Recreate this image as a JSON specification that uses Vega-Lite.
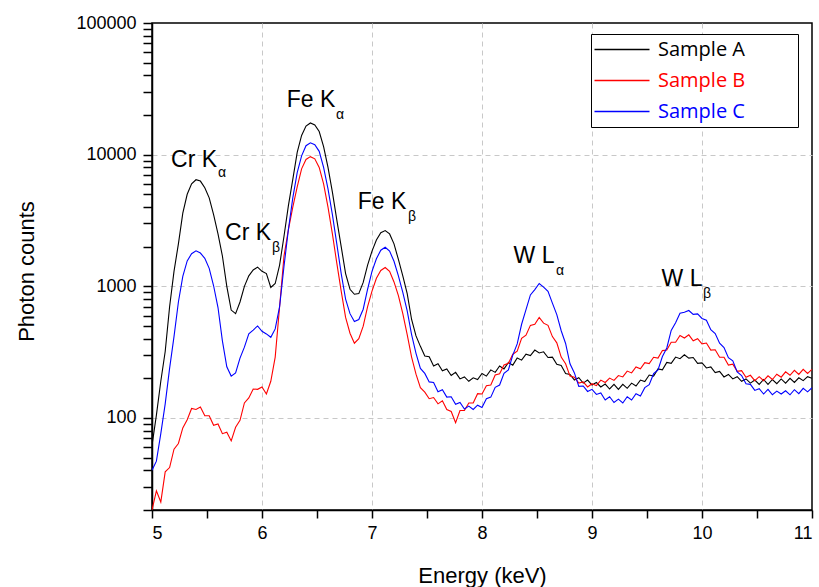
{
  "$schema": "https://vega.github.io/schema/vega-lite/v6.json",
  "width": 660,
  "height": 487,
  "autosize": {"type": "none"},
  "padding": {"left": 152, "top": 23, "right": 7, "bottom": 77},
  "background": "white",
  "config": {
    "view": {"stroke": "black", "strokeWidth": 1.5},
    "font": "Liberation Sans"
  },
  "datasets": {
    "spec": [
      {"e":5.00,"Sample A":62,"Sample B":20,"Sample C":40},
      {"e":5.04,"Sample A":105,"Sample B":28,"Sample C":47},
      {"e":5.08,"Sample A":190,"Sample B":23,"Sample C":76},
      {"e":5.12,"Sample A":320,"Sample B":39,"Sample C":128},
      {"e":5.16,"Sample A":700,"Sample B":42,"Sample C":238},
      {"e":5.20,"Sample A":1300,"Sample B":58,"Sample C":415},
      {"e":5.24,"Sample A":2100,"Sample B":64,"Sample C":760},
      {"e":5.28,"Sample A":3600,"Sample B":84,"Sample C":1190},
      {"e":5.32,"Sample A":5000,"Sample B":97,"Sample C":1560},
      {"e":5.36,"Sample A":6000,"Sample B":118,"Sample C":1770},
      {"e":5.40,"Sample A":6450,"Sample B":116,"Sample C":1860},
      {"e":5.44,"Sample A":6300,"Sample B":121,"Sample C":1790},
      {"e":5.48,"Sample A":5600,"Sample B":104,"Sample C":1630},
      {"e":5.52,"Sample A":4700,"Sample B":104,"Sample C":1370},
      {"e":5.56,"Sample A":3500,"Sample B":88,"Sample C":1010},
      {"e":5.60,"Sample A":2500,"Sample B":90,"Sample C":690},
      {"e":5.64,"Sample A":1700,"Sample B":76,"Sample C":385},
      {"e":5.68,"Sample A":1000,"Sample B":78,"Sample C":245},
      {"e":5.72,"Sample A":660,"Sample B":67,"Sample C":208},
      {"e":5.76,"Sample A":620,"Sample B":85,"Sample C":220},
      {"e":5.80,"Sample A":760,"Sample B":96,"Sample C":285},
      {"e":5.84,"Sample A":1000,"Sample B":130,"Sample C":345},
      {"e":5.88,"Sample A":1200,"Sample B":142,"Sample C":436},
      {"e":5.92,"Sample A":1330,"Sample B":166,"Sample C":465},
      {"e":5.96,"Sample A":1400,"Sample B":165,"Sample C":500},
      {"e":6.00,"Sample A":1300,"Sample B":172,"Sample C":455},
      {"e":6.04,"Sample A":1250,"Sample B":152,"Sample C":435},
      {"e":6.08,"Sample A":980,"Sample B":190,"Sample C":410},
      {"e":6.12,"Sample A":1050,"Sample B":290,"Sample C":475},
      {"e":6.16,"Sample A":1450,"Sample B":700,"Sample C":700},
      {"e":6.20,"Sample A":2400,"Sample B":1700,"Sample C":1420},
      {"e":6.24,"Sample A":4100,"Sample B":2700,"Sample C":2700},
      {"e":6.28,"Sample A":6500,"Sample B":4000,"Sample C":4700},
      {"e":6.32,"Sample A":10400,"Sample B":5700,"Sample C":7300},
      {"e":6.36,"Sample A":14000,"Sample B":7800,"Sample C":9800},
      {"e":6.40,"Sample A":16500,"Sample B":9200,"Sample C":11700},
      {"e":6.44,"Sample A":17400,"Sample B":9660,"Sample C":12300},
      {"e":6.48,"Sample A":16800,"Sample B":9300,"Sample C":11900},
      {"e":6.52,"Sample A":15000,"Sample B":8000,"Sample C":10600},
      {"e":6.56,"Sample A":11500,"Sample B":6000,"Sample C":8000},
      {"e":6.60,"Sample A":8000,"Sample B":4000,"Sample C":5500},
      {"e":6.64,"Sample A":5200,"Sample B":2500,"Sample C":3500},
      {"e":6.68,"Sample A":3200,"Sample B":1500,"Sample C":2100},
      {"e":6.72,"Sample A":2000,"Sample B":920,"Sample C":1250},
      {"e":6.76,"Sample A":1250,"Sample B":580,"Sample C":800},
      {"e":6.80,"Sample A":950,"Sample B":440,"Sample C":620},
      {"e":6.84,"Sample A":870,"Sample B":370,"Sample C":540},
      {"e":6.88,"Sample A":880,"Sample B":400,"Sample C":560},
      {"e":6.92,"Sample A":1070,"Sample B":498,"Sample C":670},
      {"e":6.96,"Sample A":1450,"Sample B":700,"Sample C":950},
      {"e":7.00,"Sample A":1850,"Sample B":920,"Sample C":1300},
      {"e":7.04,"Sample A":2250,"Sample B":1150,"Sample C":1620},
      {"e":7.08,"Sample A":2550,"Sample B":1320,"Sample C":1880},
      {"e":7.12,"Sample A":2650,"Sample B":1390,"Sample C":1980},
      {"e":7.16,"Sample A":2500,"Sample B":1300,"Sample C":1850},
      {"e":7.20,"Sample A":2100,"Sample B":1080,"Sample C":1550},
      {"e":7.24,"Sample A":1600,"Sample B":850,"Sample C":1200},
      {"e":7.28,"Sample A":1200,"Sample B":620,"Sample C":900},
      {"e":7.32,"Sample A":880,"Sample B":430,"Sample C":650},
      {"e":7.36,"Sample A":560,"Sample B":290,"Sample C":430},
      {"e":7.40,"Sample A":420,"Sample B":215,"Sample C":310},
      {"e":7.44,"Sample A":350,"Sample B":170,"Sample C":238},
      {"e":7.48,"Sample A":296,"Sample B":157,"Sample C":218},
      {"e":7.52,"Sample A":292,"Sample B":140,"Sample C":188},
      {"e":7.56,"Sample A":248,"Sample B":143,"Sample C":186},
      {"e":7.60,"Sample A":258,"Sample B":128,"Sample C":158},
      {"e":7.64,"Sample A":228,"Sample B":135,"Sample C":164},
      {"e":7.68,"Sample A":236,"Sample B":116,"Sample C":144},
      {"e":7.72,"Sample A":210,"Sample B":112,"Sample C":145},
      {"e":7.76,"Sample A":222,"Sample B":92,"Sample C":127},
      {"e":7.80,"Sample A":198,"Sample B":114,"Sample C":131},
      {"e":7.84,"Sample A":205,"Sample B":114,"Sample C":117},
      {"e":7.88,"Sample A":190,"Sample B":130,"Sample C":123},
      {"e":7.92,"Sample A":202,"Sample B":130,"Sample C":116},
      {"e":7.96,"Sample A":196,"Sample B":153,"Sample C":125},
      {"e":8.00,"Sample A":218,"Sample B":152,"Sample C":120},
      {"e":8.04,"Sample A":208,"Sample B":176,"Sample C":140},
      {"e":8.08,"Sample A":232,"Sample B":178,"Sample C":144},
      {"e":8.12,"Sample A":222,"Sample B":212,"Sample C":171},
      {"e":8.16,"Sample A":248,"Sample B":217,"Sample C":178},
      {"e":8.20,"Sample A":236,"Sample B":253,"Sample C":218},
      {"e":8.24,"Sample A":264,"Sample B":260,"Sample C":232},
      {"e":8.28,"Sample A":252,"Sample B":305,"Sample C":300},
      {"e":8.32,"Sample A":286,"Sample B":322,"Sample C":365},
      {"e":8.36,"Sample A":275,"Sample B":402,"Sample C":515},
      {"e":8.40,"Sample A":305,"Sample B":425,"Sample C":665},
      {"e":8.44,"Sample A":298,"Sample B":505,"Sample C":860},
      {"e":8.48,"Sample A":328,"Sample B":515,"Sample C":945},
      {"e":8.52,"Sample A":312,"Sample B":580,"Sample C":1050},
      {"e":8.56,"Sample A":318,"Sample B":525,"Sample C":985},
      {"e":8.60,"Sample A":288,"Sample B":505,"Sample C":915},
      {"e":8.64,"Sample A":290,"Sample B":415,"Sample C":745},
      {"e":8.68,"Sample A":256,"Sample B":372,"Sample C":610},
      {"e":8.72,"Sample A":250,"Sample B":290,"Sample C":460},
      {"e":8.76,"Sample A":218,"Sample B":258,"Sample C":368},
      {"e":8.80,"Sample A":214,"Sample B":208,"Sample C":258},
      {"e":8.84,"Sample A":194,"Sample B":204,"Sample C":220},
      {"e":8.88,"Sample A":202,"Sample B":184,"Sample C":174},
      {"e":8.92,"Sample A":184,"Sample B":188,"Sample C":175},
      {"e":8.96,"Sample A":194,"Sample B":172,"Sample C":159},
      {"e":9.00,"Sample A":178,"Sample B":182,"Sample C":165},
      {"e":9.04,"Sample A":186,"Sample B":176,"Sample C":151},
      {"e":9.08,"Sample A":172,"Sample B":194,"Sample C":155},
      {"e":9.12,"Sample A":181,"Sample B":186,"Sample C":137},
      {"e":9.16,"Sample A":166,"Sample B":201,"Sample C":145},
      {"e":9.20,"Sample A":180,"Sample B":193,"Sample C":131},
      {"e":9.24,"Sample A":165,"Sample B":210,"Sample C":139},
      {"e":9.28,"Sample A":180,"Sample B":205,"Sample C":130},
      {"e":9.32,"Sample A":168,"Sample B":227,"Sample C":145},
      {"e":9.36,"Sample A":184,"Sample B":220,"Sample C":137},
      {"e":9.40,"Sample A":175,"Sample B":244,"Sample C":153},
      {"e":9.44,"Sample A":194,"Sample B":236,"Sample C":147},
      {"e":9.48,"Sample A":189,"Sample B":263,"Sample C":170},
      {"e":9.52,"Sample A":212,"Sample B":259,"Sample C":179},
      {"e":9.56,"Sample A":208,"Sample B":289,"Sample C":217},
      {"e":9.60,"Sample A":236,"Sample B":285,"Sample C":232},
      {"e":9.64,"Sample A":232,"Sample B":325,"Sample C":293},
      {"e":9.68,"Sample A":264,"Sample B":328,"Sample C":340},
      {"e":9.72,"Sample A":260,"Sample B":376,"Sample C":462},
      {"e":9.76,"Sample A":290,"Sample B":376,"Sample C":528},
      {"e":9.80,"Sample A":282,"Sample B":423,"Sample C":625},
      {"e":9.84,"Sample A":302,"Sample B":405,"Sample C":635},
      {"e":9.88,"Sample A":285,"Sample B":428,"Sample C":655},
      {"e":9.92,"Sample A":288,"Sample B":386,"Sample C":612},
      {"e":9.96,"Sample A":260,"Sample B":400,"Sample C":618},
      {"e":10.00,"Sample A":262,"Sample B":366,"Sample C":570},
      {"e":10.04,"Sample A":240,"Sample B":371,"Sample C":552},
      {"e":10.08,"Sample A":244,"Sample B":328,"Sample C":468},
      {"e":10.12,"Sample A":221,"Sample B":330,"Sample C":438},
      {"e":10.16,"Sample A":226,"Sample B":289,"Sample C":370},
      {"e":10.20,"Sample A":205,"Sample B":289,"Sample C":343},
      {"e":10.24,"Sample A":214,"Sample B":252,"Sample C":287},
      {"e":10.28,"Sample A":198,"Sample B":256,"Sample C":272},
      {"e":10.32,"Sample A":206,"Sample B":226,"Sample C":224},
      {"e":10.36,"Sample A":190,"Sample B":229,"Sample C":210},
      {"e":10.40,"Sample A":198,"Sample B":204,"Sample C":182},
      {"e":10.44,"Sample A":184,"Sample B":211,"Sample C":180},
      {"e":10.48,"Sample A":194,"Sample B":192,"Sample C":162},
      {"e":10.52,"Sample A":180,"Sample B":206,"Sample C":167},
      {"e":10.56,"Sample A":196,"Sample B":192,"Sample C":152},
      {"e":10.60,"Sample A":180,"Sample B":209,"Sample C":165},
      {"e":10.64,"Sample A":196,"Sample B":196,"Sample C":150},
      {"e":10.68,"Sample A":182,"Sample B":215,"Sample C":160},
      {"e":10.72,"Sample A":198,"Sample B":204,"Sample C":152},
      {"e":10.76,"Sample A":184,"Sample B":224,"Sample C":161},
      {"e":10.80,"Sample A":200,"Sample B":211,"Sample C":150},
      {"e":10.84,"Sample A":186,"Sample B":230,"Sample C":164},
      {"e":10.88,"Sample A":202,"Sample B":214,"Sample C":153},
      {"e":10.92,"Sample A":192,"Sample B":234,"Sample C":168},
      {"e":10.96,"Sample A":206,"Sample B":218,"Sample C":158},
      {"e":11.00,"Sample A":200,"Sample B":234,"Sample C":170}
    ],
    "ann": [
      {"x":5.382,"y":9160,"t":"Cr K"},
      {"x":5.873,"y":2520,"t":"Cr K"},
      {"x":6.445,"y":26100,"t":"Fe K"},
      {"x":7.091,"y":4400,"t":"Fe K"},
      {"x":8.473,"y":1690,"t":"W L"},
      {"x":9.818,"y":1130,"t":"W L"}
    ],
    "sub": [
      {"x":5.636,"y":7310,"t":"α"},
      {"x":6.127,"y":1970,"t":"β"},
      {"x":6.709,"y":20100,"t":"α"},
      {"x":7.364,"y":3390,"t":"β"},
      {"x":8.709,"y":1300,"t":"α"},
      {"x":10.045,"y":869,"t":"β"}
    ]
  },
  "layer": [
    {
      "data": {"name": "spec"},
      "transform": [{"fold": ["Sample A", "Sample B", "Sample C"], "as": ["series", "count"]}],
      "mark": {"type": "line", "strokeWidth": 1.1, "clip": true},
      "encoding": {
        "x": {
          "field": "e", "type": "quantitative", "title": "Energy (keV)",
          "scale": {"domain": [5, 11], "nice": false, "zero": false},
          "axis": {
            "values": [5, 5.5, 6, 6.5, 7, 7.5, 8, 8.5, 9, 9.5, 10, 10.5, 11],
            "labelExpr": "datum.value % 1 === 0 ? format(datum.value, 'd') : ''",
            "grid": true,
            "gridColor": "#c8c8c8",
            "gridDash": [5, 4],
            "gridWidth": 1,
            "gridOpacity": {"condition": {"test": "datum.value % 1 !== 0 || datum.value === 5 || datum.value === 11", "value": 0}, "value": 1},
            "tickSize": 8, "tickColor": "black", "tickWidth": 1.5,
            "domainColor": "black", "domainWidth": 1.5,
            "labelFontSize": 18, "labelColor": "black", "labelPadding": 6, "labelFont": "Liberation Sans",
            "title": "Energy (keV)", "titleFontSize": 22, "titleFontWeight": "normal", "titleColor": "black", "titleFont": "Liberation Sans",
            "titleBaseline": "alphabetic", "titleY": 72
          }
        },
        "y": {
          "field": "count", "type": "quantitative", "title": "Photon counts",
          "scale": {"type": "log", "domain": [20, 100000], "nice": false},
          "axis": {
            "values": [20, 30, 40, 50, 60, 70, 80, 90, 100, 200, 300, 400, 500, 600, 700, 800, 900, 1000, 2000, 3000, 4000, 5000, 6000, 7000, 8000, 9000, 10000, 20000, 30000, 40000, 50000, 60000, 70000, 80000, 90000, 100000],
            "labelExpr": "indexof([100, 1000, 10000, 100000], datum.value) >= 0 ? format(datum.value, 'd') : ''",
            "grid": true,
            "gridColor": "#c8c8c8",
            "gridDash": [5, 4],
            "gridWidth": 1,
            "gridOpacity": {"condition": {"test": "indexof([100, 1000, 10000], datum.value) < 0", "value": 0}, "value": 1},
            "tickSize": 9, "tickColor": "black", "tickWidth": 1.5,
            "domainColor": "black", "domainWidth": 1.5,
            "labelFontSize": 18, "labelColor": "black", "labelPadding": 7, "labelFont": "Liberation Sans",
            "title": "Photon counts", "titleFontSize": 22, "titleFontWeight": "normal", "titleColor": "black", "titleFont": "Liberation Sans",
            "titleAngle": -90, "titleBaseline": "alphabetic", "titleAlign": "center", "titleX": -119, "titleY": 248
          }
        },
        "color": {
          "field": "series", "type": "nominal",
          "scale": {"domain": ["Sample A", "Sample B", "Sample C"], "range": ["#000000", "#ff0000", "#0000ff"]},
          "legend": {
            "orient": "none", "legendX": 439, "legendY": 11,
            "title": null,
            "strokeColor": "black", "fillColor": "white",
            "padding": 5.5,
            "symbolType": "M-5,0H5", "symbolSize": 121, "symbolStrokeWidth": 1.3, "symbolOffset": 15.5,
            "labelOffset": 26, "labelFontSize": 20, "labelFont": "Open Sans", "rowPadding": 11,
            "labelExpr": "datum.label + '\u00a0\u00a0\u00a0\u00a0\u00a0\u00a0\u00a0\u00a0\u00a0\u200b'",
            "encode": {
              "labels": {"update": {
                "fill": {"signal": "datum.value === 'Sample A' ? '#000000' : datum.value === 'Sample B' ? '#ff0000' : '#0000ff'"}
              }},
              "symbols": {"update": {
                "stroke": {"signal": "datum.value === 'Sample A' ? '#000000' : datum.value === 'Sample B' ? '#ff0000' : '#0000ff'"},
                "strokeWidth": {"value": 1.3}
              }}
            }
          }
        }
      }
    },
    {
      "data": {"name": "ann"},
      "mark": {"type": "text", "fontSize": 23, "font": "Liberation Sans", "color": "black", "baseline": "middle", "align": "center"},
      "encoding": {
        "x": {"field": "x", "type": "quantitative", "title": "Energy (keV)"},
        "y": {"field": "y", "type": "quantitative", "title": "Photon counts"},
        "text": {"field": "t"}
      }
    },
    {
      "data": {"name": "sub"},
      "mark": {"type": "text", "fontSize": 14, "font": "Liberation Sans", "color": "black", "baseline": "middle", "align": "center"},
      "encoding": {
        "x": {"field": "x", "type": "quantitative", "title": "Energy (keV)"},
        "y": {"field": "y", "type": "quantitative", "title": "Photon counts"},
        "text": {"field": "t"}
      }
    }
  ]
}
